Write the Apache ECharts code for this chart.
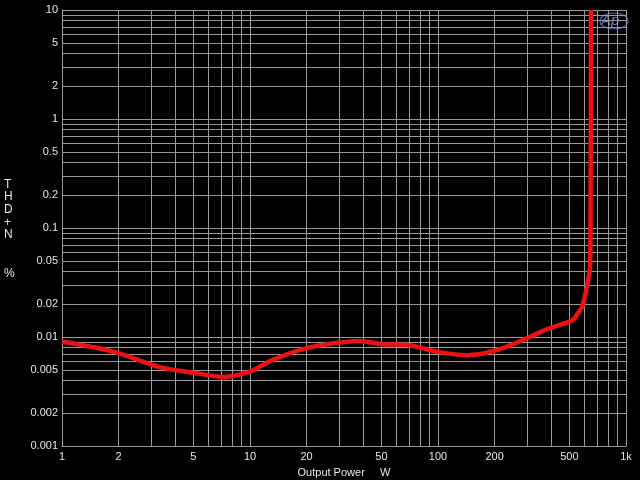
<!DOCTYPE html>
<html>
<head>
<meta charset="utf-8">
<script src="https://cdn.jsdelivr.net/npm/echarts@6/dist/echarts.min.js"></script>
<style>html,body{margin:0;padding:0;background:#000}#c{width:640px;height:480px}</style>
</head>
<body>
<div id="c"></div>
<script>
// Output power (W)
const powerW = [1, 1.5, 2, 3.3, 5, 7.2, 10, 13, 20, 30, 38, 51, 68, 100, 143, 206, 308, 380, 520, 570, 585, 620, 644, 648, 650, 651];
// THD+N (%)
const thdN   = [0.0091, 0.0080, 0.0071, 0.0053, 0.0047, 0.0043, 0.0048, 0.0061, 0.0079, 0.0089, 0.0092, 0.0086, 0.0085, 0.0073, 0.0068, 0.0076, 0.0100, 0.0118, 0.0143, 0.0177, 0.0190, 0.029, 0.044, 0.2, 1, 10];

const xLabelValues = [1, 2, 5, 10, 20, 50, 100, 200, 500, 1000];
const yLabelValues = [0.001, 0.002, 0.005, 0.01, 0.02, 0.05, 0.1, 0.2, 0.5, 1, 2, 5, 10];
const xGridValues = [1,2,3,4,5,6,7,8,9,10,20,30,40,50,60,70,80,90,100,200,300,400,500,600,700,800,900,1000];
const yGridValues = [0.001,0.002,0.003,0.004,0.005,0.006,0.007,0.008,0.009,0.01,0.02,0.03,0.04,0.05,0.06,0.07,0.08,0.09,0.1,0.2,0.3,0.4,0.5,0.6,0.7,0.8,0.9,1,2,3,4,5,6,7,8,9,10];

const chart = echarts.init(document.getElementById('c'), null, {renderer: 'canvas'});
const fmt = v => { const n = +(+v).toPrecision(3); return n >= 1000 ? (n/1000) + 'k' : String(n); };
const gridColor = '#9a9a9a';
const labelStyle = {color: '#e6e6e6', fontFamily: 'Liberation Sans, Arial, sans-serif', fontSize: 11};

chart.setOption({
  backgroundColor: '#000',
  animation: false,
  grid: {left: 62, right: 14, top: 10, bottom: 34, outerBoundsMode: 'none', containLabel: false},
  xAxis: {
    type: 'log', logBase: 10, min: 1, max: 1000,
    name: 'Output Power     W', nameLocation: 'middle', nameGap: 21,
    nameTextStyle: labelStyle,
    axisLine: {show: true, lineStyle: {color: gridColor, width: 1}},
    axisTick: {show: false, customValues: xGridValues},
    axisLabel: Object.assign({customValues: xLabelValues, formatter: fmt, margin: 5, showMinLabel: true, showMaxLabel: true}, labelStyle),
    splitLine: {show: true, lineStyle: {color: gridColor, width: 1}},
    minorSplitLine: {show: false}
  },
  yAxis: {
    type: 'log', logBase: 10, min: 0.001, max: 10,
    axisLine: {show: true, lineStyle: {color: gridColor, width: 1}},
    axisTick: {show: false, customValues: yGridValues},
    axisLabel: Object.assign({customValues: yLabelValues, formatter: fmt, margin: 4, showMinLabel: true, showMaxLabel: true}, labelStyle),
    splitLine: {show: true, lineStyle: {color: gridColor, width: 1}}
  },
  graphic: [
    {type: 'text', left: 4, top: 178, style: {text: 'T\nH\nD\n+\nN\n\n\n%', fill: '#e6e6e6', font: '12px Liberation Sans, Arial, sans-serif', lineHeight: 12.7, align: 'center', width: 10}},
    {type: 'ellipse', shape: {cx: 614, cy: 21, rx: 14, ry: 8}, style: {fill: 'none', stroke: '#4f5fb0', lineWidth: 1.2}},
    {type: 'text', x: 601, y: 13, style: {text: 'Ap', fill: '#6a7ad8', font: 'italic 15px Liberation Sans, Arial, sans-serif'}}
  ],
  series: [{
    type: 'line',
    data: powerW.map((p, i) => [p, thdN[i]]),
    showSymbol: false,
    smooth: 0.25,
    lineStyle: {color: '#ee1111', width: 4.5},
    clip: true
  }]
});
</script>
</body>
</html>
